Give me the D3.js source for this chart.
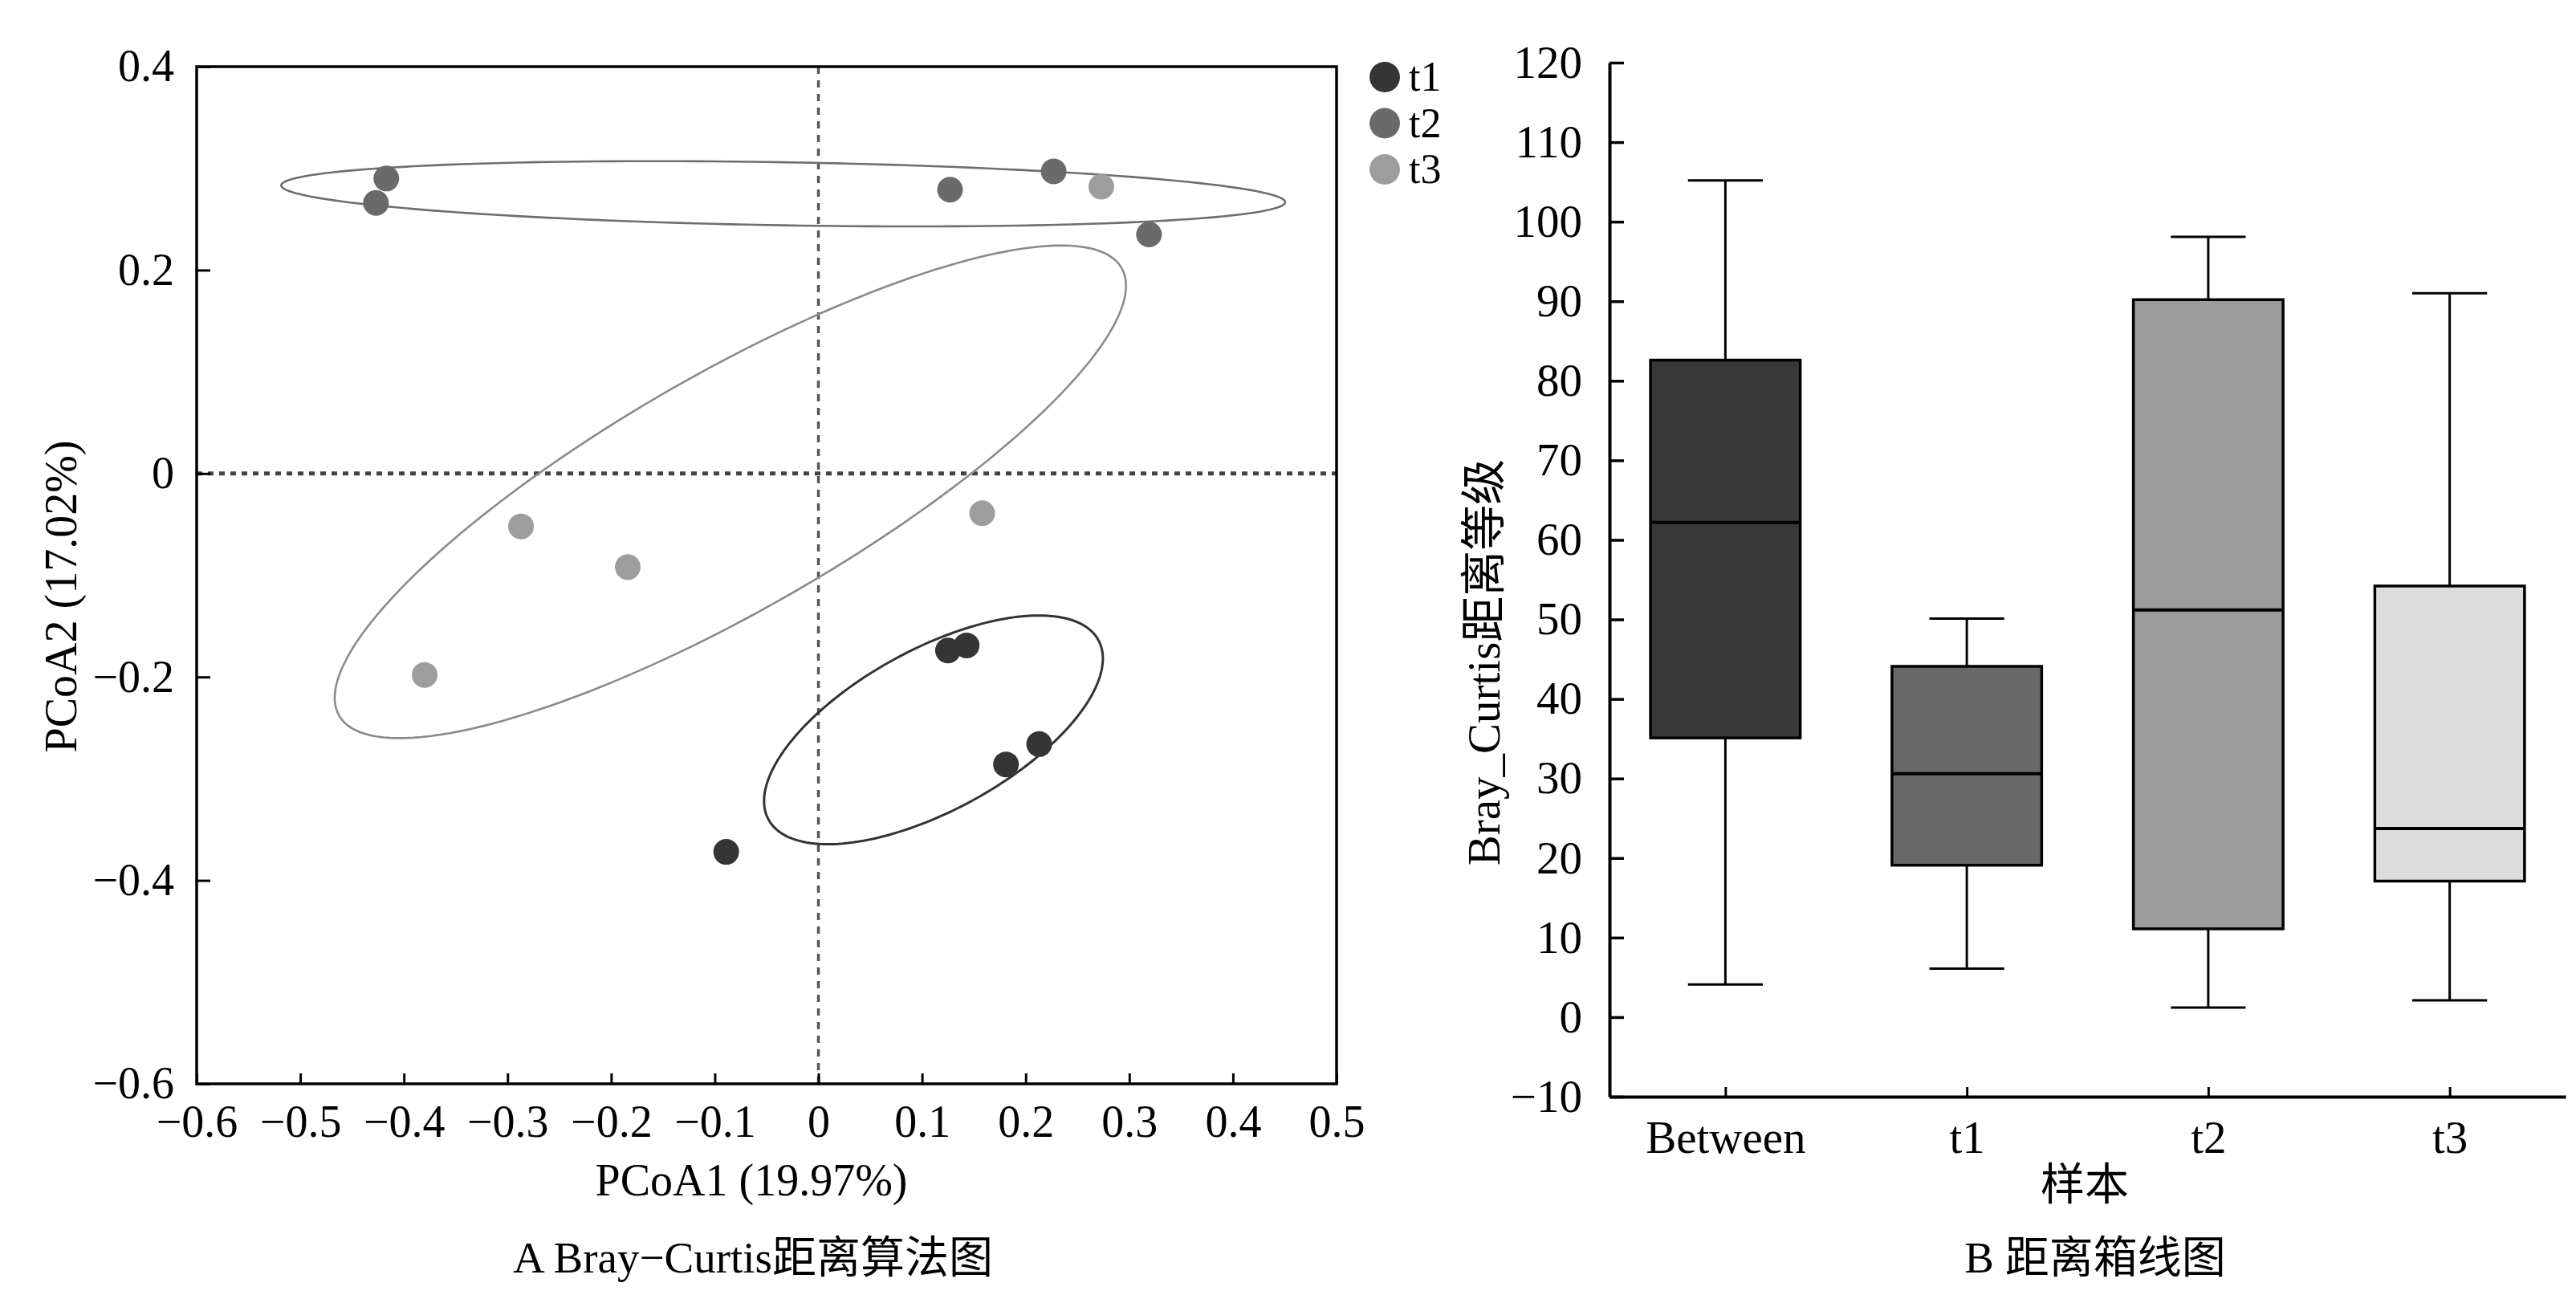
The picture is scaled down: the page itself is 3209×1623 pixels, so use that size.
<!DOCTYPE html>
<html>
<head>
<meta charset="utf-8">
<script src="https://cdn.jsdelivr.net/npm/d3@7"></script>
<style>
  body { margin: 0; background: #fff; }
  text { font-family: "Liberation Serif", "Noto Sans CJK SC", serif; fill: #000; }
</style>
</head>
<body>
<div id="chart"></div>
<script>
// PCoA scores
const t1Points = [[0.125, -0.174], [0.143, -0.169], [0.213, -0.266], [0.181, -0.286], [-0.089, -0.372]];
const t2Points = [[-0.417, 0.290], [-0.427, 0.266], [0.127, 0.279], [0.227, 0.297], [0.319, 0.235]];
const t3Points = [[0.273, 0.282], [-0.287, -0.052], [-0.184, -0.092], [-0.380, -0.198], [0.158, -0.039]];
const groups = ["t1", "t2", "t3"];
const groupColors = ["#353535", "#6a6a6a", "#9d9d9d"];

// confidence ellipses (data units, angle in degrees)
const ellipseGroup = ["t2", "t3", "t1"];
const ellipseCx = [-0.034, -0.085, 0.111];
const ellipseCy = [0.275, -0.018, -0.252];
const ellipseRx = [0.4845, 0.437, 0.182];
const ellipseRy = [0.031, 0.116, 0.079];
const ellipseAngle = [-0.98, 30.3, 29.2];
const ellipseColors = ["#6e6e6e", "#8a8a8a", "#333333"];

const pcoaXTicks = [-0.6, -0.5, -0.4, -0.3, -0.2, -0.1, 0, 0.1, 0.2, 0.3, 0.4, 0.5];
const pcoaYTicks = [-0.6, -0.4, -0.2, 0, 0.2, 0.4];

// panel B box plot stats
const boxCategories = ["Between", "t1", "t2", "t3"];
const boxMin = [4.1, 6.1, 1.2, 2.1];
const boxQ1 = [35.1, 19.1, 11.1, 17.1];
const boxMedian = [62.2, 30.6, 51.2, 23.7];
const boxQ3 = [82.6, 44.1, 90.2, 54.2];
const boxMax = [105.2, 50.1, 98.1, 91.0];
const boxFills = ["#393939", "#686868", "#9c9c9c", "#dcdcdc"];
const boxYTicks = [-10, 0, 10, 20, 30, 40, 50, 60, 70, 80, 90, 100, 110, 120];

const W = 3209, H = 1623;
const svg = d3.select("#chart").append("svg")
  .attr("width", W).attr("height", H)
  .style("background", "#fff");

// ---------- Panel A ----------
const xL = d3.scaleLinear().domain([-0.6, 0.5]).range([245, 1665]);
const yL = d3.scaleLinear().domain([-0.6, 0.4]).range([1350, 83]);
const numFmt = d => d === 0 ? "0" : d3.format(".1f")(d);

const gA = svg.append("g");

// dotted zero lines
gA.append("line")
  .attr("x1", xL(-0.6)).attr("x2", xL(0.5))
  .attr("y1", yL(0)).attr("y2", yL(0))
  .attr("stroke", "#444").attr("stroke-width", 5)
  .attr("stroke-dasharray", "7,7");
gA.append("line")
  .attr("x1", xL(0)).attr("x2", xL(0))
  .attr("y1", yL(0.4)).attr("y2", yL(-0.6))
  .attr("stroke", "#555").attr("stroke-width", 3.5)
  .attr("stroke-dasharray", "9,8");

// ellipses
const ellipseLine = d3.line().x(p => xL(p[0])).y(p => yL(p[1]));
ellipseGroup.forEach((g, i) => {
  const phi = ellipseAngle[i] * Math.PI / 180;
  const pts = d3.range(0, 361, 2).map(deg => {
    const t = deg * Math.PI / 180;
    const ex = ellipseRx[i] * Math.cos(t), ey = ellipseRy[i] * Math.sin(t);
    return [ellipseCx[i] + ex * Math.cos(phi) - ey * Math.sin(phi),
            ellipseCy[i] + ex * Math.sin(phi) + ey * Math.cos(phi)];
  });
  gA.append("path")
    .attr("d", ellipseLine(pts))
    .attr("fill", "none")
    .attr("stroke", ellipseColors[i])
    .attr("stroke-width", i === 2 ? 3 : 2.6);
});

// points
const allPoints = [t1Points, t2Points, t3Points];
allPoints.forEach((pts, gi) => {
  gA.selectAll(null)
    .data(pts)
    .enter()
    .append("circle")
    .attr("cx", d => xL(d[0]))
    .attr("cy", d => yL(d[1]))
    .attr("r", 16)
    .attr("fill", groupColors[gi]);
});

// frame
gA.append("rect")
  .attr("x", xL(-0.6)).attr("y", yL(0.4))
  .attr("width", xL(0.5) - xL(-0.6))
  .attr("height", yL(-0.6) - yL(0.4))
  .attr("fill", "none").attr("stroke", "#000").attr("stroke-width", 3.5);

// axes (ticks inward)
const axBottomA = gA.append("g")
  .attr("transform", `translate(0,${yL(-0.6)})`)
  .call(d3.axisBottom(xL).tickValues(pcoaXTicks).tickFormat(numFmt)
    .tickSizeInner(-13).tickSizeOuter(0).tickPadding(26));
axBottomA.select(".domain").remove();
axBottomA.selectAll("line").attr("stroke", "#000").attr("stroke-width", 3);
axBottomA.selectAll("text").attr("font-size", 56).attr("font-family", "Liberation Serif");

const axLeftA = gA.append("g")
  .attr("transform", `translate(${xL(-0.6)},0)`)
  .call(d3.axisLeft(yL).tickValues(pcoaYTicks).tickFormat(numFmt)
    .tickSizeInner(-17).tickSizeOuter(0).tickPadding(28));
axLeftA.select(".domain").remove();
axLeftA.selectAll("line").attr("stroke", "#000").attr("stroke-width", 3);
axLeftA.selectAll("text").attr("font-size", 56).attr("font-family", "Liberation Serif");

gA.append("text")
  .attr("x", 936).attr("y", 1489)
  .attr("text-anchor", "middle").attr("font-size", 56)
  .text("PCoA1 (19.97%)");
gA.append("text")
  .attr("transform", "translate(95,743) rotate(-90)")
  .attr("text-anchor", "middle").attr("font-size", 56)
  .text("PCoA2 (17.02%)");
gA.append("text")
  .attr("x", 938).attr("y", 1585)
  .attr("text-anchor", "middle").attr("font-size", 55)
  .text("A Bray\u2212Curtis距离算法图");

// legend
const legend = gA.append("g");
groups.forEach((g, i) => {
  legend.append("circle")
    .attr("cx", 1725).attr("cy", 96 + i * 57.5)
    .attr("r", 19).attr("fill", groupColors[i]);
  legend.append("text")
    .attr("x", 1755).attr("y", 96 + i * 57.5 + 17)
    .attr("font-size", 52)
    .text(g);
});

// ---------- Panel B ----------
const xR = d3.scalePoint().domain(boxCategories).range([2005, 3196]).padding(0.48);
const yR = d3.scaleLinear().domain([-10, 120]).range([1366, 78]);
const boxW = xR.step() * 0.62;
const gB = svg.append("g");

boxCategories.forEach((c, i) => {
  const cx = xR(c);
  // whiskers
  gB.append("line")
    .attr("x1", cx).attr("x2", cx)
    .attr("y1", yR(boxMax[i])).attr("y2", yR(boxQ3[i]))
    .attr("stroke", "#000").attr("stroke-width", 3);
  gB.append("line")
    .attr("x1", cx).attr("x2", cx)
    .attr("y1", yR(boxQ1[i])).attr("y2", yR(boxMin[i]))
    .attr("stroke", "#000").attr("stroke-width", 3);
  [boxMax[i], boxMin[i]].forEach(v => {
    gB.append("line")
      .attr("x1", cx - boxW / 4).attr("x2", cx + boxW / 4)
      .attr("y1", yR(v)).attr("y2", yR(v))
      .attr("stroke", "#000").attr("stroke-width", 3);
  });
  // box
  gB.append("rect")
    .attr("x", cx - boxW / 2).attr("width", boxW)
    .attr("y", yR(boxQ3[i])).attr("height", yR(boxQ1[i]) - yR(boxQ3[i]))
    .attr("fill", boxFills[i])
    .attr("stroke", "#000").attr("stroke-width", 3.5);
  gB.append("line")
    .attr("x1", cx - boxW / 2).attr("x2", cx + boxW / 2)
    .attr("y1", yR(boxMedian[i])).attr("y2", yR(boxMedian[i]))
    .attr("stroke", "#000").attr("stroke-width", 4);
});

const axLeftB = gB.append("g")
  .attr("transform", `translate(2005,0)`)
  .call(d3.axisLeft(yR).tickValues(boxYTicks).tickFormat(d3.format("d"))
    .tickSizeInner(-18).tickSizeOuter(0).tickPadding(34));
axLeftB.select(".domain").attr("stroke", "#000").attr("stroke-width", 4);
axLeftB.selectAll("line").attr("stroke", "#000").attr("stroke-width", 3.5);
axLeftB.selectAll("text").attr("font-size", 57).attr("font-family", "Liberation Serif");

const axBottomB = gB.append("g")
  .attr("transform", `translate(0,${yR(-10)})`)
  .call(d3.axisBottom(xR)
    .tickSizeInner(-12).tickSizeOuter(0).tickPadding(30));
axBottomB.select(".domain").attr("stroke", "#000").attr("stroke-width", 4);
axBottomB.selectAll("line").attr("stroke", "#000").attr("stroke-width", 3);
axBottomB.selectAll("text").attr("font-size", 57).attr("font-family", "Liberation Serif");

gB.append("text")
  .attr("transform", "translate(1868,825) rotate(-90)")
  .attr("text-anchor", "middle").attr("font-size", 57)
  .text("Bray_Curtis距离等级");
gB.append("text")
  .attr("x", 2597).attr("y", 1494)
  .attr("text-anchor", "middle").attr("font-size", 55)
  .text("样本");
gB.append("text")
  .attr("x", 2610).attr("y", 1585)
  .attr("text-anchor", "middle").attr("font-size", 55)
  .text("B 距离箱线图");
</script>
</body>
</html>
